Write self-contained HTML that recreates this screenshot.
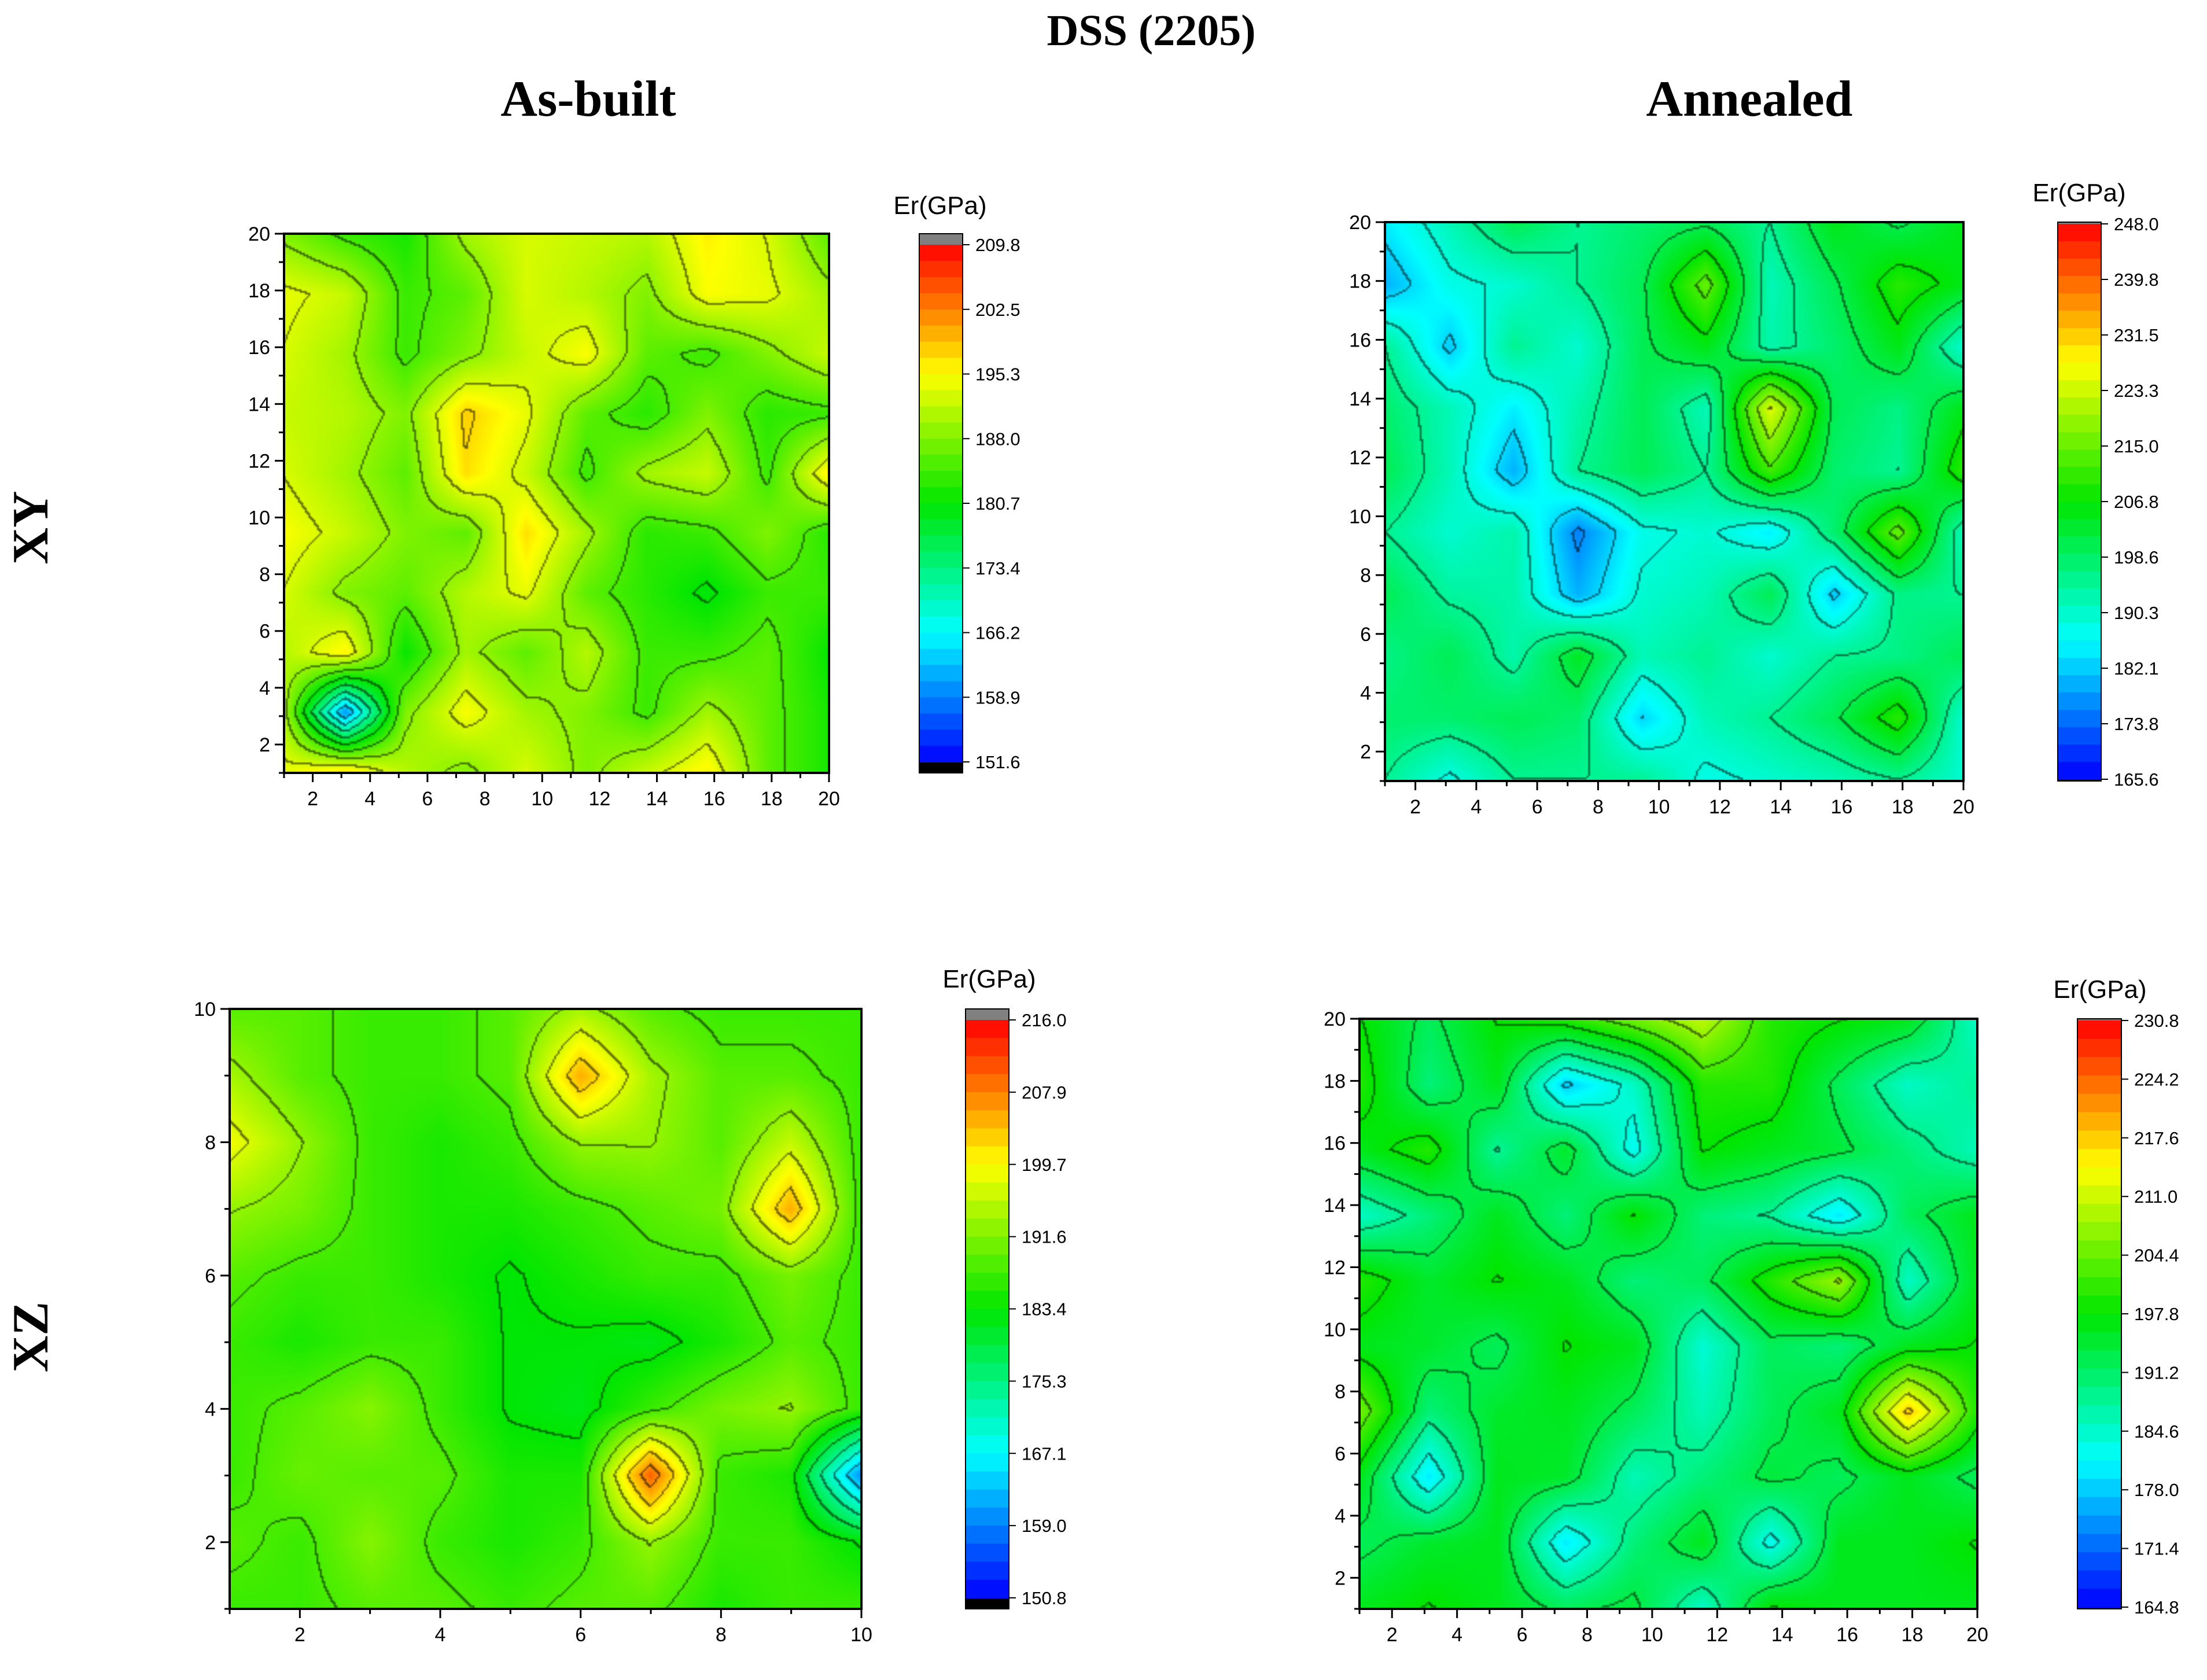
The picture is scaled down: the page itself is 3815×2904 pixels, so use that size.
<!DOCTYPE html>
<html><head><meta charset="utf-8">
<style>
html,body{margin:0;padding:0;background:#fff;}
#root{position:relative;width:3815px;height:2904px;overflow:hidden;background:#fff;font-family:"Liberation Sans",sans-serif;}
canvas{position:absolute;}
svg{position:absolute;left:0;top:0;}
</style></head>
<body>
<div id="root">
<svg id="svg" width="3815" height="2904">
 <text x="1990" y="78" text-anchor="middle" font-family="Liberation Serif, serif" font-weight="bold" font-size="76">DSS (2205)</text>
 <text x="1017" y="200" text-anchor="middle" font-family="Liberation Serif, serif" font-weight="bold" font-size="88">As-built</text>
 <text x="3024" y="200" text-anchor="middle" font-family="Liberation Serif, serif" font-weight="bold" font-size="88">Annealed</text>
 <text transform="translate(82,912) rotate(-90)" text-anchor="middle" font-family="Liberation Serif, serif" font-weight="bold" font-size="88">XY</text>
 <text transform="translate(82,2311) rotate(-90)" text-anchor="middle" font-family="Liberation Serif, serif" font-weight="bold" font-size="88">XZ</text>
</svg>
</div>
<script>
// ---- data (grids: rows top->bottom, columns left->right, evenly spaced on axis range) ----
const grid1 = [
[188,184,182,190,193,192,191,196,193,186],
[194,192,184,186,193,191,188,195,194,190],
[193,190,184,188,192,195,186,184,188,192],
[192,191,188,198,194,186,183,188,183,184],
[193,190,186,197,192,184,190,192,184,196],
[195,192,188,186,197,190,183,184,188,183],
[193,188,186,191,194,186,183,180,184,184],
[191,196,181,190,186,191,184,184,186,181],
[190,160,188,195,190,188,184,190,186,182],
[194,197,191,188,193,188,192,196,186,182]];
const grid2 = [
[185,192,200,195,198,200,195,205,200,205],
[180,188,190,195,200,215,192,200,210,205],
[195,182,195,190,200,205,193,198,205,190],
[198,192,185,193,200,192,225,200,196,205],
[200,192,180,195,200,195,212,198,195,210],
[195,190,193,176,188,190,185,198,215,192],
[200,194,193,180,190,192,200,182,196,195],
[196,200,193,204,192,195,190,195,196,200],
[198,198,200,198,183,192,195,200,210,190],
[195,188,195,195,195,188,190,192,195,190]];
const grid3 = [
[189,189,187,187,189,194,189,187,187,187],
[194,189,187,187,189,205,194,189,189,187],
[199,193,187,185,187,193,193,189,196,187],
[193,191,187,185,185,187,189,191,205,187],
[189,187,187,185,183,185,187,187,191,187],
[187,185,187,187,183,183,182,185,189,187],
[187,189,192,187,183,182,187,191,193,187],
[187,190,189,189,185,185,210,187,185,160],
[189,187,192,187,185,187,193,187,187,183],
[187,187,189,189,187,189,189,185,187,187]];
const grid4 = [
[198,192,198,200,205,210,200,198,196,185],
[200,190,196,178,185,200,200,192,185,188],
[196,200,188,195,182,198,196,194,190,186],
[185,190,196,190,198,190,188,180,192,196],
[200,195,198,196,190,192,200,208,185,196],
[196,195,192,198,196,184,192,190,196,198],
[205,190,195,196,192,186,192,196,218,200],
[196,180,196,195,186,190,194,192,196,192],
[192,195,196,180,190,196,182,196,196,198],
[196,198,196,192,194,185,198,196,196,196]];
const ticks20 = [2,4,6,8,10,12,14,16,18,20];
const ticks10 = [2,4,6,8,10];
const cbar1 = [209.8,202.5,195.3,188.0,180.7,173.4,166.2,158.9,151.6];
const cbar2 = [248.0,239.8,231.5,223.3,215.0,206.8,198.6,190.3,182.1,173.8,165.6];
const cbar3 = [216.0,207.9,199.7,191.6,183.4,175.3,167.1,159.0,150.8];
const cbar4 = [230.8,224.2,217.6,211.0,204.4,197.8,191.2,184.6,178.0,171.4,164.8];

const panels = [
 {id:'xy-as-built', grid:grid1, ticks:ticks20, amin:1, amax:20, box:{x:491,y:404,w:942,h:932}, cb:{x:1589,y:404,w:75,h:932,strips:true}, labels:cbar1, er:{x:1625,y:370}},
 {id:'xy-annealed', grid:grid2, ticks:ticks20, amin:1, amax:20, box:{x:2394,y:384,w:1000,h:966}, cb:{x:3557,y:384,w:75,h:966,strips:false}, labels:cbar2, er:{x:3594,y:348}},
 {id:'xz-as-built', grid:grid3, ticks:ticks10, amin:1, amax:10, box:{x:397,y:1744,w:1092,h:1037}, cb:{x:1669,y:1744,w:75,h:1037,strips:true}, labels:cbar3, er:{x:1710,y:1707}},
 {id:'xz-annealed', grid:grid4, ticks:ticks20, amin:1, amax:20, box:{x:2350,y:1761,w:1068,h:1020}, cb:{x:3591,y:1761,w:76,h:1020,strips:false}, labels:cbar4, er:{x:3630,y:1725}}
];

function cmap(t){
 t=Math.max(0,Math.min(1,t));
 const s=[[0,0,0,255],[0.25,0,255,255],[0.5,0,230,0],[0.75,255,255,0],[1,255,0,0]];
 for(let i=0;i<s.length-1;i++){ if(t<=s[i+1][0]){ const f=(t-s[i][0])/(s[i+1][0]-s[i][0]); return [0,1,2].map(k=>Math.round(s[i][k+1]+(s[i+1][k+1]-s[i][k+1])*f)); } }
 return [255,0,0];
}
function sample(grid,fx,fy){
 const nr=grid.length,nc=grid[0].length;
 const gx=fx*(nc-1), gy=fy*(nr-1);
 const i0=Math.min(nc-2,Math.floor(gx)), j0=Math.min(nr-2,Math.floor(gy));
 const ax=gx-i0, ay=gy-j0;
 const a=grid[j0][i0],b=grid[j0][i0+1],c=grid[j0+1][i0],d=grid[j0+1][i0+1];
 return a*(1-ax)*(1-ay)+b*ax*(1-ay)+c*(1-ax)*ay+d*ax*ay;
}
const NS='http://www.w3.org/2000/svg';
const svg=document.getElementById('svg');
const root=document.getElementById('root');
function mk(tag,attrs,parent){const e=document.createElementNS(NS,tag);for(const k in attrs)e.setAttribute(k,attrs[k]);(parent||svg).appendChild(e);return e;}

panels.forEach(p=>{
 const vmax=p.labels[0], vmin=p.labels[p.labels.length-1];
 const B=p.box, S=3;
 const W=Math.round(B.w/S), H=Math.round(B.h/S);
 const cv=document.createElement('canvas');
 
 
 cv.width=W; cv.height=H;
 cv.style.left=B.x+'px'; cv.style.top=B.y+'px'; cv.style.width=B.w+'px'; cv.style.height=B.h+'px';
 root.insertBefore(cv,svg);
 const ctx=cv.getContext('2d'); const img=ctx.createImageData(W,H);
 const step=(vmax-vmin)/14;
 const lv=[];
 for(let y=0;y<H;y++){lv.push([]);for(let x=0;x<W;x++){const v=sample(p.grid,x/(W-1),y/(H-1));lv[y].push({v,l:Math.floor((v-vmin)/step)});}}
 for(let y=0;y<H;y++)for(let x=0;x<W;x++){
  const o=lv[y][x]; let c=cmap((o.v-vmin)/(vmax-vmin));
  const edge=(x<W-1&&lv[y][x+1].l!==o.l)||(y<H-1&&lv[y+1][x].l!==o.l);
  if(edge) c=c.map(k=>Math.round(k*0.45));
  const i=(y*W+x)*4; img.data[i]=c[0];img.data[i+1]=c[1];img.data[i+2]=c[2];img.data[i+3]=255;
 }
 ctx.putImageData(img,0,0);
 const g=mk('g',{});
 mk('rect',{x:B.x,y:B.y,width:B.w,height:B.h,fill:'none',stroke:'#000','stroke-width':4,},g);
 const xs=v=>B.x+(v-p.amin)/(p.amax-p.amin)*B.w;
 const ys=v=>B.y+B.h-(v-p.amin)/(p.amax-p.amin)*B.h;
 for(let v=p.amin;v<=p.amax;v++){
  const major=p.ticks.includes(v); const L=major?16:9;
  mk('line',{x1:xs(v),x2:xs(v),y1:B.y+B.h,y2:B.y+B.h+L,stroke:'#000','stroke-width':3},g);
  mk('line',{x1:B.x,x2:B.x-L,y1:ys(v),y2:ys(v),stroke:'#000','stroke-width':3},g);
 }
 p.ticks.forEach(v=>{
  const tx=mk('text',{x:xs(v),y:B.y+B.h+56,'text-anchor':'middle','font-size':34,},g); tx.textContent=v;
  const ty=mk('text',{x:B.x-24,y:ys(v)+12,'text-anchor':'end','font-size':34,},g); ty.textContent=v;
 });
 const C=p.cb; const cg=mk('g',{});
 const strip=C.strips?19:3;
 mk('rect',{x:C.x,y:C.y,width:C.w,height:strip,fill:'#808080'},cg);
 mk('rect',{x:C.x,y:C.y+C.h-strip,width:C.w,height:strip,fill:'#000'},cg);
 const gy0=C.y+strip, gh=C.h-2*strip, n=32;
 for(let i=0;i<n;i++){const c=cmap(1-(i+0.5)/n);mk('rect',{x:C.x,y:gy0+i*gh/n,width:C.w,height:gh/n+1,fill:`rgb(${c})`},cg);}
 mk('rect',{x:C.x,y:C.y,width:C.w,height:C.h,fill:'none',stroke:'#000','stroke-width':2},cg);
 p.labels.forEach((v,i)=>{
  const yy=gy0+i*gh/(p.labels.length-1);
  mk('line',{x1:C.x+C.w,x2:C.x+C.w+12,y1:yy,y2:yy,stroke:'#000','stroke-width':2},cg);
  const t=mk('text',{x:C.x+C.w+22,y:yy+11,'font-size':31,},cg); t.textContent=v.toFixed(1);
 });
 const et=mk('text',{x:p.er.x,y:p.er.y,'text-anchor':'middle','font-size':44,},cg); et.textContent='Er(GPa)';
});
</script>
</body></html>
